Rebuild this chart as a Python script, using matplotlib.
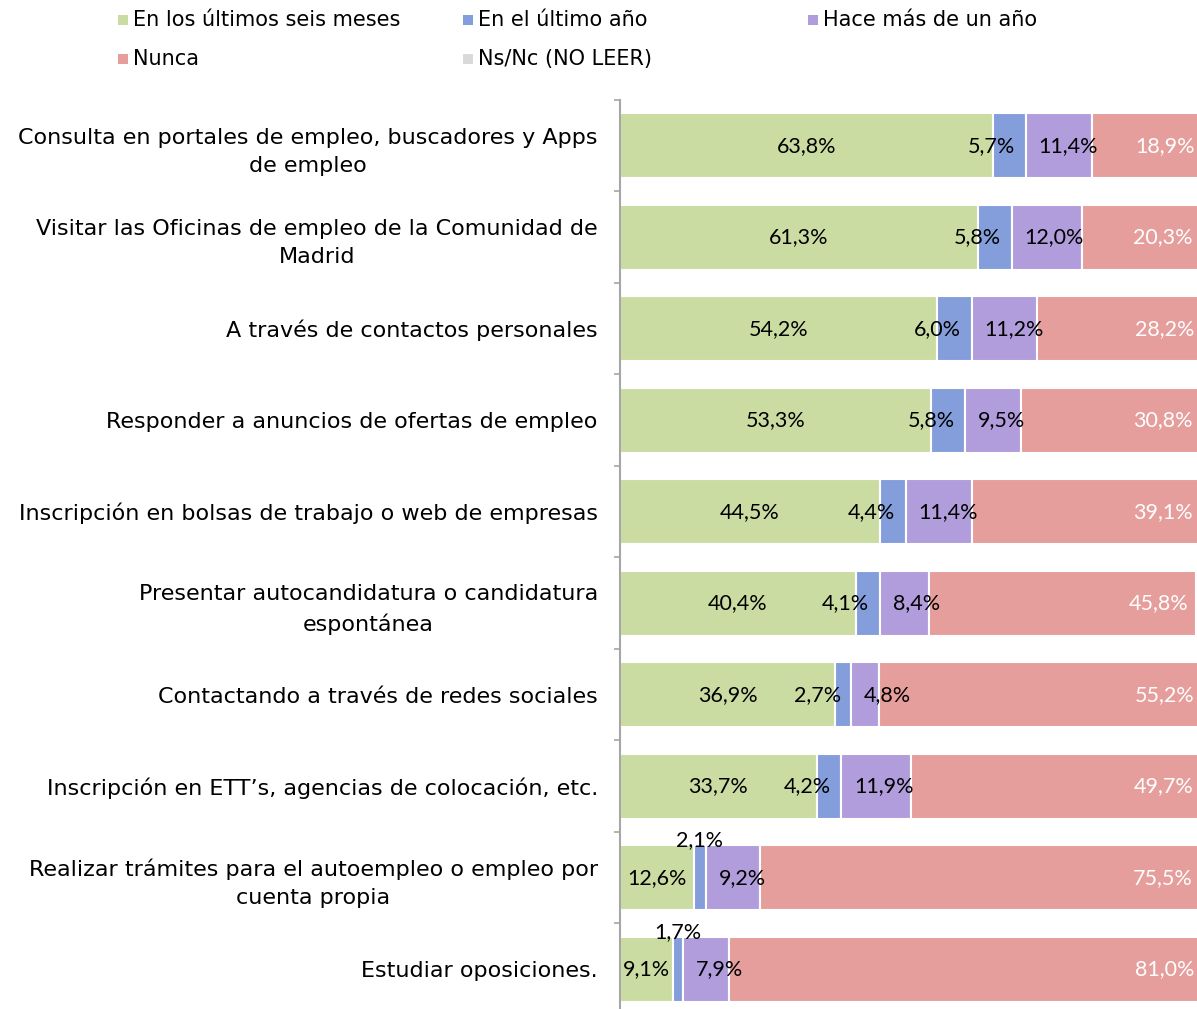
import numpy as np
import matplotlib.pyplot as plt
from matplotlib.patches import Rectangle

plt.rcParams['font.family'] = ['Lato', 'DejaVu Sans']

# datos (%)
categorias = [
    "Consulta en portales de empleo, buscadores y Apps\nde empleo",
    "Visitar las Oficinas de empleo de la Comunidad de\nMadrid",
    "A través de contactos personales",
    "Responder a anuncios de ofertas de empleo",
    "Inscripción en bolsas de trabajo o web de empresas",
    "Presentar autocandidatura o candidatura\nespontánea",
    "Contactando a través de redes sociales",
    "Inscripción en ETT’s, agencias de colocación, etc.",
    "Realizar trámites para el autoempleo o empleo por\ncuenta propia",
    "Estudiar oposiciones.",
]
seis_meses = [63.8, 61.3, 54.2, 53.3, 44.5, 40.4, 36.9, 33.7, 12.6, 9.1]
ultimo_anio = [5.7, 5.8, 6.0, 5.8, 4.4, 4.1, 2.7, 4.2, 2.1, 1.7]
mas_de_un_anio = [11.4, 12.0, 11.2, 9.5, 11.4, 8.4, 4.8, 11.9, 9.2, 7.9]
nunca = [18.9, 20.3, 28.2, 30.8, 39.1, 45.8, 55.2, 49.7, 75.5, 81.0]
nsnc = [0.2, 0.6, 0.4, 0.6, 0.6, 1.3, 0.4, 0.5, 0.6, 0.3]

series = ["En los últimos seis meses", "En el último año", "Hace más de un año",
          "Nunca", "Ns/Nc (NO LEER)"]
colores = ['#CBDCA3', '#849EDC', '#B19DDB', '#E59E9B', '#D9D9D9']

W, H = 1197, 1009
fig = plt.figure(figsize=(W / 100, H / 100), dpi=100)
# el area de trazado se sale un poco por la derecha y por abajo, como en el original
ax = fig.add_axes([620 / W, (H - 1015) / H, 584 / W, 915 / H])

y = np.arange(len(categorias))
datos = [seis_meses, ultimo_anio, mas_de_un_anio, nunca, nsnc]
izq = np.zeros(len(categorias))
for vals, col in zip(datos, colores):
    ax.barh(y, vals, left=izq, height=0.71, color=col, edgecolor='white', linewidth=1.5)
    izq = izq + np.array(vals)

fs = 15.5
fs_cat = 16
def pct(v):
    return f"{v:.1f}%".replace('.', ',')

for i in range(len(categorias)):
    a, b, c, d = seis_meses[i], ultimo_anio[i], mas_de_un_anio[i], nunca[i]
    ax.text(a / 2, i, pct(a), ha='center', va='center', fontsize=fs)
    if b < 2.5:
        ax.text(a + b / 2, i - 0.41, pct(b), ha='center', va='center', fontsize=fs)
    else:
        ax.text(a + b - 1.8, i, pct(b), ha='right', va='center', fontsize=fs)
    ax.text(a + b + 2.2, i, pct(c), ha='left', va='center', fontsize=fs)
    ax.text(a + b + c + d - 1.3, i, pct(d), ha='right', va='center', fontsize=fs, color='white')

ax.set_xlim(0, 100)
ax.set_ylim(len(categorias) - 0.5, -0.5)
ax.set_xticks([])
ax.set_yticks(y)
ax.set_yticklabels(categorias, fontsize=fs_cat, family='DejaVu Sans',
                   multialignment='center', linespacing=1.5)
ax.tick_params(axis='y', which='major', length=0, pad=16)
ax.set_yticks(np.arange(-0.5, len(categorias), 1), minor=True)
ax.tick_params(axis='y', which='minor', length=4.5, color='#A6A6A6', width=1.2)
for s in ['top', 'right', 'bottom']:
    ax.spines[s].set_visible(False)
ax.spines['left'].set_color('#A6A6A6')
ax.spines['left'].set_linewidth(1.5)

# leyenda manual en dos filas
pos_leyenda = [(118, 20), (463, 20), (808, 20), (118, 59), (463, 59)]
for (px, py), nombre, col in zip(pos_leyenda, series, colores):
    fig.patches.append(Rectangle((px / W, 1 - (py + 5) / H), 10 / W, 10 / H,
                                 transform=fig.transFigure, facecolor=col, edgecolor='none'))
    fig.text((px + 15) / W, 1 - py / H, nombre, ha='left', va='center',
             fontsize=15, family='DejaVu Sans')

fig.savefig('out.png', dpi=100)
